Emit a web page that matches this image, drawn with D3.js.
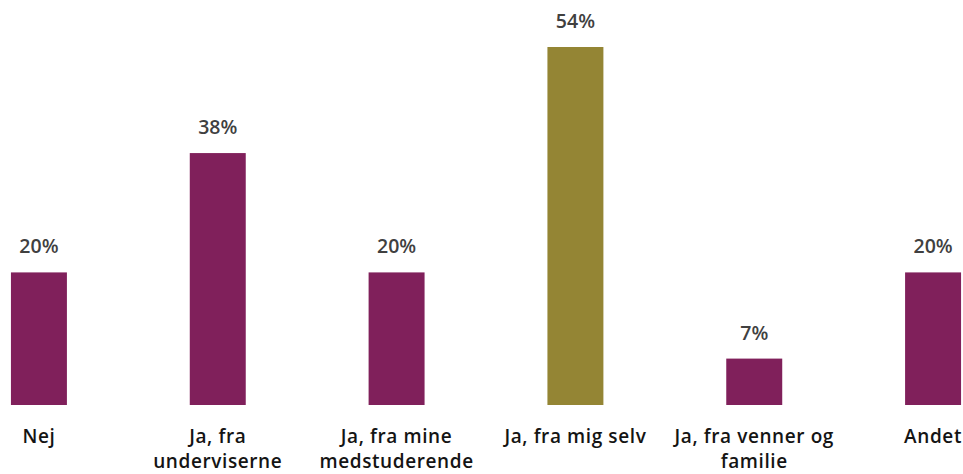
<!DOCTYPE html>
<html lang="da">
<head>
<meta charset="UTF-8"/>
<title>Feedback</title>
<script src="https://d3js.org/d3.v7.min.js"></script>
<style>
  body { margin: 0; background: #fff; }
  text { font-family: "Open Sans", "Noto Sans", sans-serif; font-weight: 600; }
</style>
</head>
<body>
<div id="chart"></div>
<script>
// data
var categories = ["Nej", "Ja, fra underviserne", "Ja, fra mine medstuderende", "Ja, fra mig selv", "Ja, fra venner og familie", "Andet"]
var values = [20, 38, 20, 54, 7, 20]
var highlight = [false, false, false, true, false, false]

var width = 963, height = 474

var svg = d3.select("#chart").append("svg")
    .attr("width", width)
    .attr("height", height)

// x: band centers from 39 to 933
var x = d3.scaleBand()
    .domain(categories)
    .range([-50.4, 1022.4])
    .paddingInner(0.687)
    .paddingOuter(0.343)

var y = d3.scaleLinear()
    .domain([0, 54])
    .range([405, 47])

svg.selectAll("rect.bar")
  .data(values)
  .enter()
  .append("rect")
    .attr("class", "bar")
    .attr("x", function(d, i) { return x(categories[i]) })
    .attr("width", x.bandwidth())
    .attr("y", function(d) { return y(d) })
    .attr("height", function(d) { return y(0) - y(d) })
    .attr("fill", function(d, i) { return highlight[i] ? "#948534" : "#80205b" })

// value labels
svg.selectAll("text.val")
  .data(values)
  .enter()
  .append("text")
    .attr("class", "val")
    .attr("x", function(d, i) { return x(categories[i]) + x.bandwidth() / 2 })
    .attr("y", function(d) { return y(d) - 19 })
    .attr("text-anchor", "middle")
    .style("font-size", "19.5px")
    .style("fill", "#404040")
    .text(function(d) { return d + "%" })

// category labels, wrapped
var maxW = 180
categories.forEach(function(c, i) {
  var cx = x(c) + x.bandwidth() / 2
  var t = svg.append("text")
      .attr("x", cx)
      .attr("y", 443)
      .attr("text-anchor", "middle")
      .style("font-size", "19px")
      .style("letter-spacing", "0.6px")
      .style("fill", "#141414")
  var words = c.split(" "), line = []
  var ts = t.append("tspan").attr("x", cx).attr("dy", 0)
  words.forEach(function(w) {
    line.push(w)
    ts.text(line.join(" "))
    if (ts.node().getComputedTextLength() > maxW && line.length > 1) {
      line.pop()
      ts.text(line.join(" "))
      line = [w]
      ts = t.append("tspan").attr("x", cx).attr("dy", 25).text(w)
    }
  })
})
</script>
</body>
</html>
